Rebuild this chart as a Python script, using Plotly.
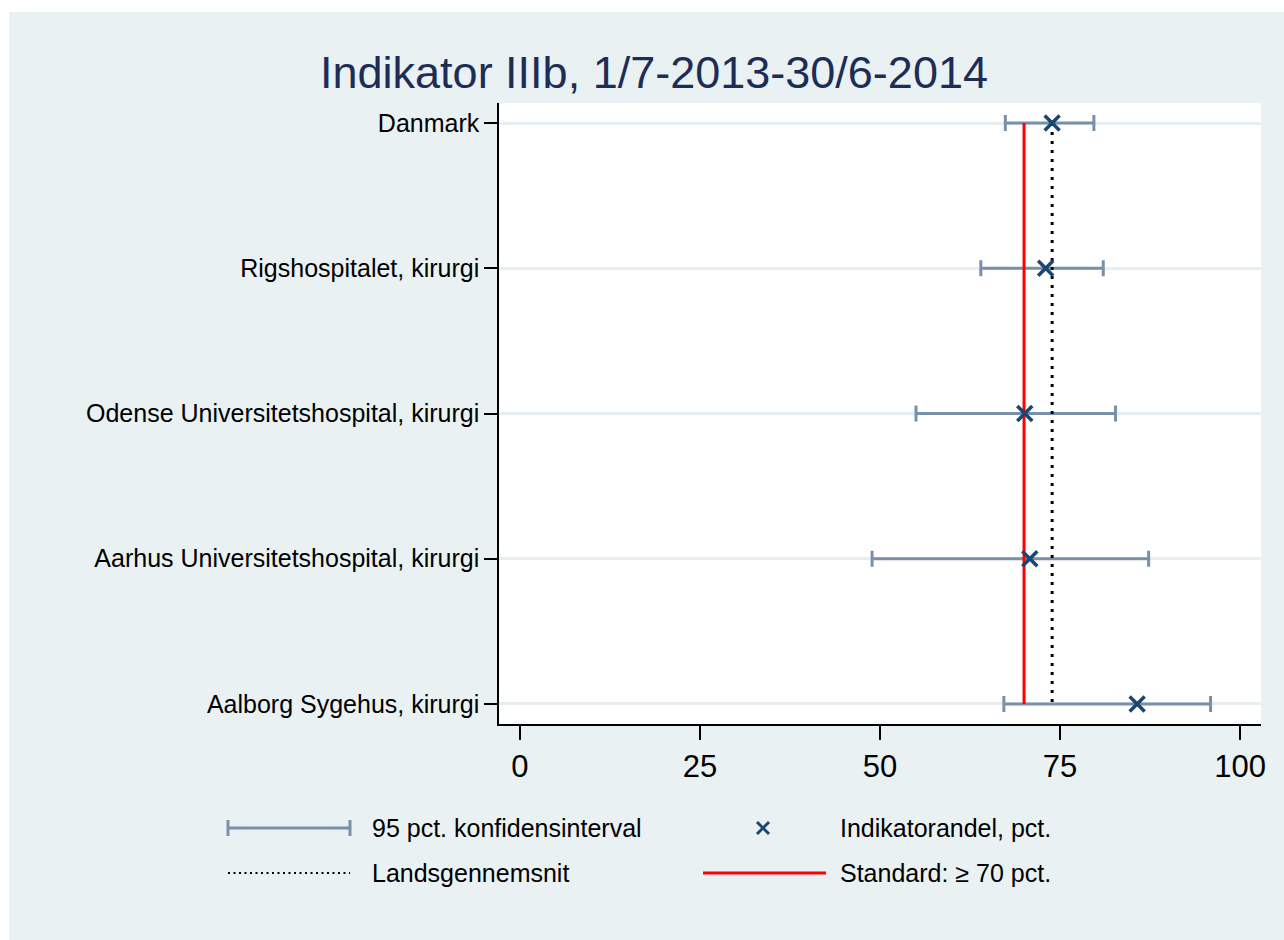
import plotly.graph_objects as go

# ---- data ----
categories = ["Danmark", "Rigshospitalet, kirurgi", "Odense Universitetshospital, kirurgi",
              "Aarhus Universitetshospital, kirurgi", "Aalborg Sygehus, kirurgi"]
andel = [73.9, 73.0, 70.1, 70.8, 85.7]
lower = [67.4, 64.0, 55.0, 48.9, 67.2]
upper = [79.7, 81.0, 82.7, 87.3, 95.9]
landsgennemsnit = 73.9
standard = 70
x_ticks = [0, 25, 50, 75, 100]
title_text = "Indikator IIIb, 1/7-2013-30/6-2014"
legend_labels = ["95 pct. konfidensinterval", "Indikatorandel, pct.", "Landsgennemsnit", "Standard: ≥ 70 pct."]

# ---- styles ----
W, H = 1284, 940
ML, MR, MT, MB = 499, 23, 103, 216
PW, PH = W - ML - MR, H - MT - MB
BG = "#e9f1f3"
CI_COL = "#7890aa"
MK_COL = "#1a476f"
FONT = "Liberation Sans, Arial, sans-serif"


def px(xp):
    return (xp - ML) / PW


def py(yp):
    return (H - MB - yp) / PH


err_plus = [u - a for u, a in zip(upper, andel)]
err_minus = [a - l for a, l in zip(andel, lower)]

fig = go.Figure()

fig.add_trace(go.Scatter(
    x=andel, y=categories, mode="markers",
    marker=dict(size=1, color="rgba(0,0,0,0)"),
    error_x=dict(type="data", symmetric=False, array=err_plus, arrayminus=err_minus,
                 color=CI_COL, thickness=3, width=8),
    showlegend=False, hoverinfo="skip"))

fig.add_trace(go.Scatter(
    x=[standard, standard], y=[categories[0], categories[-1]], mode="lines",
    line=dict(color="#ff0000", width=3), showlegend=False))

fig.add_trace(go.Scatter(
    x=[landsgennemsnit, landsgennemsnit], y=[categories[0], categories[-1]], mode="lines",
    line=dict(color="black", width=3, dash="3px,6px"), showlegend=False))

fig.add_trace(go.Scatter(
    x=andel, y=categories, mode="markers",
    marker=dict(symbol="x-thin", size=15, line=dict(color=MK_COL, width=3.5), color=MK_COL),
    showlegend=False))

# ---- manual legend ----
shapes = []
r1, r2 = py(828), py(873)
c1a, c1b = px(228), px(350)
c2a, c2b = px(703), px(826)
cap = 8 / PH
shapes.append(dict(type="line", xref="paper", yref="paper", x0=c1a, x1=c1b, y0=r1, y1=r1,
                   line=dict(color=CI_COL, width=3)))
for cx in (c1a, c1b):
    shapes.append(dict(type="line", xref="paper", yref="paper", x0=cx, x1=cx, y0=r1 - cap, y1=r1 + cap,
                       line=dict(color=CI_COL, width=3)))
mx, mh = 6 / PW, 6 / PH
mcx = px(763)
shapes.append(dict(type="line", xref="paper", yref="paper", x0=mcx - mx, x1=mcx + mx, y0=r1 - mh, y1=r1 + mh,
                   line=dict(color=MK_COL, width=3)))
shapes.append(dict(type="line", xref="paper", yref="paper", x0=mcx - mx, x1=mcx + mx, y0=r1 + mh, y1=r1 - mh,
                   line=dict(color=MK_COL, width=3)))
shapes.append(dict(type="line", xref="paper", yref="paper", x0=c1a, x1=c1b, y0=r2, y1=r2,
                   line=dict(color="black", width=2, dash="2px,3.5px")))
shapes.append(dict(type="line", xref="paper", yref="paper", x0=c2a, x1=c2b, y0=r2, y1=r2,
                   line=dict(color="#ff0000", width=3)))
# white outer border strips
shapes.append(dict(type="rect", xref="paper", yref="paper", x0=-1, x1=2, y0=py(12), y1=py(-20),
                   fillcolor="white", line=dict(width=0), layer="above"))
shapes.append(dict(type="rect", xref="paper", yref="paper", x0=px(-20), x1=px(9), y0=-1, y1=2,
                   fillcolor="white", line=dict(width=0), layer="above"))

annotations = []
for txt, xx, yy in [(legend_labels[0], px(370), r1), (legend_labels[1], px(838), r1),
                    (legend_labels[2], px(370), r2), (legend_labels[3], px(838), r2)]:
    annotations.append(dict(text=txt, x=xx, y=yy, xref="paper", yref="paper", xanchor="left",
                            yanchor="middle", showarrow=False, font=dict(size=25, color="black", family=FONT)))

fig.update_layout(
    width=W, height=H,
    margin=dict(l=ML, r=MR, t=MT, b=MB, pad=0),
    paper_bgcolor=BG, plot_bgcolor="white",
    font=dict(family=FONT, color="black"),
    title=dict(text=title_text, x=654 / W, xanchor="center", y=1 - 72 / H, yanchor="middle",
               xref="container", yref="container",
               font=dict(size=45, color="#1e2d55", family=FONT)),
    shapes=shapes, annotations=annotations,
    showlegend=False,
    xaxis=dict(range=[-2.9, 102.9], tickvals=x_ticks, ticktext=[str(t) for t in x_ticks],
               showgrid=False, zeroline=False, showline=True, linecolor="black", linewidth=1.5,
               ticks="outside", ticklen=14, tickwidth=1.5, tickcolor="black",
               tickfont=dict(size=31, color="black", family=FONT)),
    yaxis=dict(type="category", categoryorder="array", categoryarray=categories,
               range=[len(categories) - 1 + 0.138, -0.138],
               showgrid=True, gridcolor="#e6eef1", gridwidth=3, zeroline=False,
               showline=True, linecolor="black", linewidth=1.5,
               ticks="outside", ticklen=13, tickwidth=1.5, tickcolor="black",
               tickfont=dict(size=25, color="black", family=FONT)),
)

fig.write_html("out.html")
